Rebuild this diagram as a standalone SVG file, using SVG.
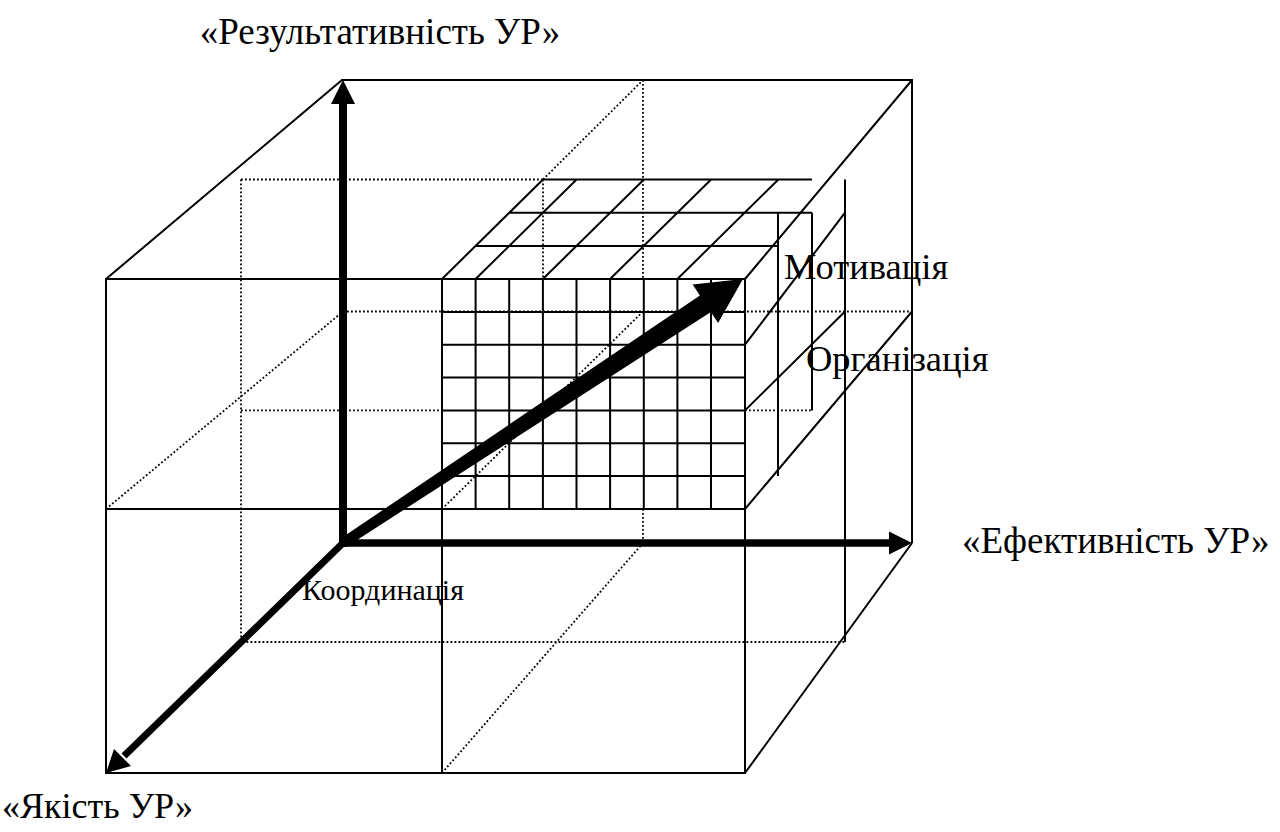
<svg xmlns="http://www.w3.org/2000/svg" width="1280" height="832" viewBox="0 0 1280 832">
<style>
.s{stroke:#000;stroke-width:2;fill:none}
.d{stroke:#000;stroke-width:1.8;stroke-dasharray:1.8 2.2;fill:none}
text{font-family:'Liberation Serif','Times New Roman','DejaVu Serif',serif;fill:#000}
</style>
<rect width="1280" height="832" fill="#fff"/>
<g id="hidden-lines">
<path class="d" d="M343,311.5 H912 M745,410.4 H812 M241,410.4 H442 M543,179.5 V279 M643,80 V279 M643,509 V543 M543,179.5 L643,80 M442,509 L643,311.5 M106,509 L343,311.5 M442,773 L643,543 M241,179.5 V642 H845 M241,179.5 H543"/>
</g>
<g id="cube">
<path class="s" d="M106,279 H745 V773 H106 Z M106,509 H745 M442,279 V773 M106,279 L342,80 H912 V543 M745,279 L912,80 M745,509 L912,311.5 M745,773 L912,543"/>
</g>
<g id="grid">
<path class="s" d="M442,311.9 H745 M442,344.7 H745 M442,377.6 H745 M442,410.4 H745 M442,443.3 H745 M442,476.1 H745"/>
<path class="s" d="M475.6,279 V509 M509.2,279 V509 M542.9,279 V509 M576.5,279 V509 M610.1,279 V509 M643.8,279 V509 M677.4,279 V509 M711,279 V509"/>
<path class="s" d="M475.6,246 H778 M509.2,212.7 H812 M543,179.5 H812 M442,279 L543,179.5 M475.6,279 L576.6,179.5 M542.9,279 L643.9,179.5 M610.1,279 L711.1,179.5 M677.4,279 L778.4,179.5"/>
<path class="s" d="M778,212.7 V476 M812,212.7 V410.4 M845,179.5 V642 M745,344.7 L845,212.7 M745,410.4 L845,311.5"/>
</g>
<g id="connectors">
<line x1="343" y1="547" x2="343" y2="100" stroke="#000" stroke-width="8"/>
<polygon points="343,80 331,104 355,104" fill="#000"/>
<line x1="339" y1="543" x2="892" y2="543" stroke="#000" stroke-width="7.5"/>
<polygon points="912,543 889,531.5 889,554.5" fill="#000"/>
<line x1="343" y1="543" x2="124" y2="756" stroke="#000" stroke-width="7"/>
<polygon points="106,773 114,749 131,766" fill="#000"/>
<polygon points="340.3,538.8 699.9,295.5 692.7,284.6 743,279 718.1,323 710.9,312.1 345.8,547.2" fill="#000"/>
</g>
<g id="label-result"><text x="380" y="44" font-size="37" text-anchor="middle" font-family="Liberation Serif, serif">«Результативність УР»</text></g>
<g id="label-efficiency"><text x="962" y="553" font-size="37" font-family="Liberation Serif, serif">«Ефективність УР»</text></g>
<g id="label-quality"><text x="2" y="818" font-size="36" font-family="Liberation Serif, serif">«Якість УР»</text></g>
<g id="label-motivation"><text x="784" y="279" font-size="36.5" font-family="Liberation Serif, serif">Мотивація</text></g>
<g id="label-organization"><text x="806" y="371" font-size="36.5" font-family="Liberation Serif, serif">Організація</text></g>
<g id="label-coordination"><text x="302" y="600" font-size="30" font-family="Liberation Serif, serif">Координація</text></g>
</svg>
